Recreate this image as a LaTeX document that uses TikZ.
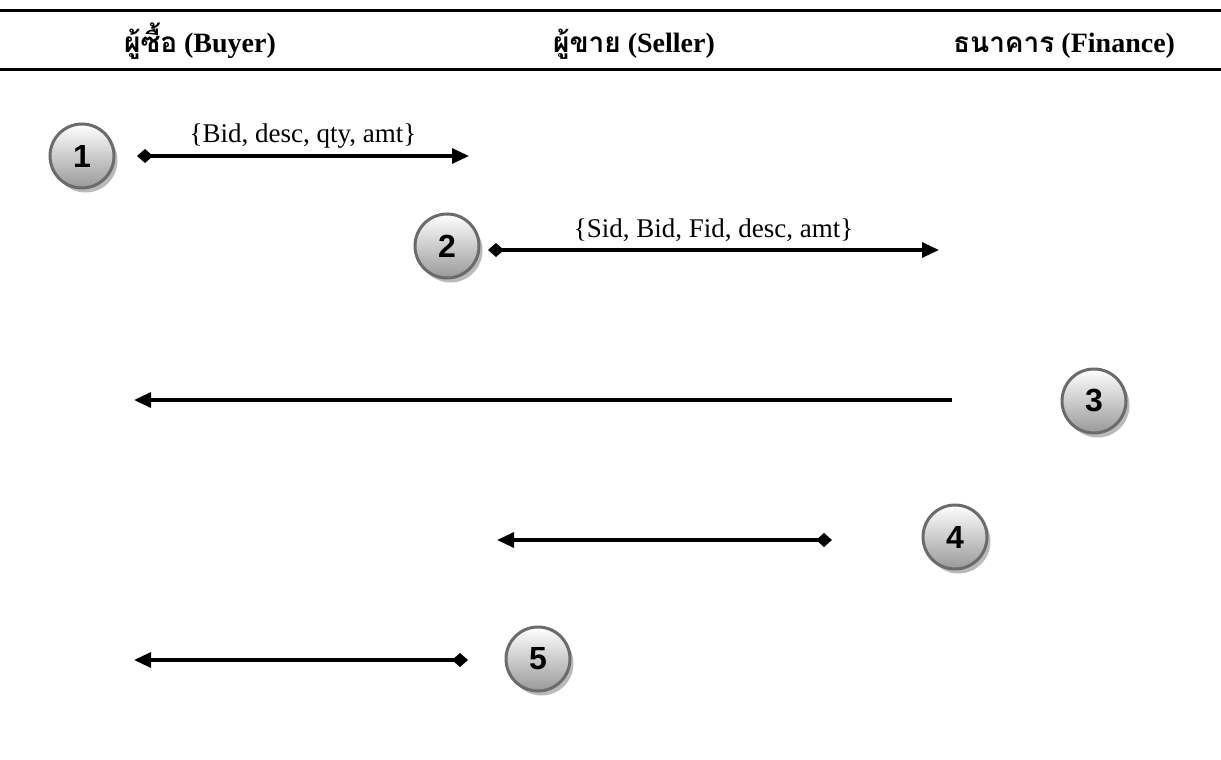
\documentclass[tikz,border=0pt]{standalone}
\usepackage{fontspec}
\setmainfont{Liberation Serif}
\newfontfamily\thaifont[Script=Thai]{Loma}
\newfontfamily\numfont{Liberation Sans}
\usetikzlibrary{arrows.meta,shadows}
\begin{document}
\begin{tikzpicture}[x=1pt,y=-1pt,
  step circle/.style={circle,minimum size=64pt,inner sep=0pt,draw=black!58,line width=3pt,
    top color=white,bottom color=black!40,
    drop shadow={shadow xshift=3.5pt,shadow yshift=-4.5pt,fill=black!45,opacity=0.6},
    font=\numfont\bfseries\fontsize{32}{34}\selectfont},
  msg/.style={line width=3.2pt,-{Triangle[length=17pt,width=15pt]}},
  msgd/.style={msg,{Diamond[length=16pt,width=14pt]}-{Triangle[length=17pt,width=15pt]}},
  hdr/.style={font=\bfseries\fontsize{28}{30}\selectfont,anchor=base},
  lbl/.style={font=\fontsize{27}{29}\selectfont},
  rule/.style={line width=3pt}]
\useasboundingbox (0,0) rectangle (1221,760);
% header rules
\coordinate (rl1) at (0,11); \coordinate (rr1) at (1221,11);
\coordinate (rl2) at (0,70); \coordinate (rr2) at (1221,70);
\draw[rule] (rl1) -- (rr1);
\draw[rule] (rl2) -- (rr2);
\node[hdr] (hb) at (200,53) {{\thaifont\bfseries ผู้ซื้อ} (Buyer)};
\node[hdr] (hs) at (634,53) {{\thaifont\bfseries ผู้ขาย} (Seller)};
\node[hdr] (hf) at (1064,53) {{\thaifont\bfseries ธนาคาร} (Finance)};
% steps
\node[step circle] (c1) at (82,156) {1};
\node[step circle] (c2) at (447,246) {2};
\node[step circle] (c3) at (1094,401) {3};
\node[step circle] (c4) at (955,537) {4};
\node[step circle] (c5) at (538,659) {5};
% connectors
\coordinate (a1s) at (137,156); \coordinate (a1e) at (469,156);
\coordinate (a2s) at (488,250); \coordinate (a2e) at (939,250);
\coordinate (a3s) at (952,400); \coordinate (a3e) at (134,400);
\coordinate (a4s) at (832,540); \coordinate (a4e) at (497,540);
\coordinate (a5s) at (468,660); \coordinate (a5e) at (134,660);
\draw[msgd] (a1s) -- node[lbl,above=3pt] (l1) {\{Bid, desc, qty, amt\}} (a1e);
\draw[msgd] (a2s) -- node[lbl,above=3pt] (l2) {\{Sid, Bid, Fid, desc, amt\}} (a2e);
\draw[msg] (a3s) -- (a3e);
\draw[msgd] (a4s) -- (a4e);
\draw[msgd] (a5s) -- (a5e);
\end{tikzpicture}
\end{document}
